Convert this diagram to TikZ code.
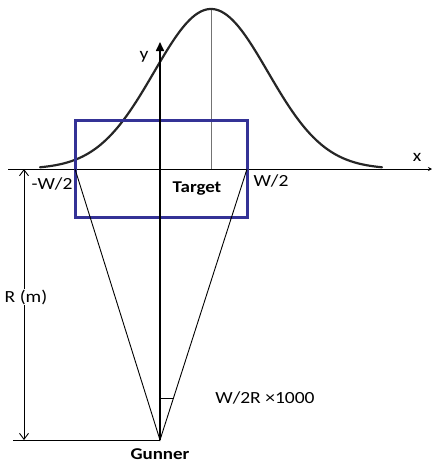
\documentclass[tikz,border=0pt]{standalone}
\usepackage{fontspec}
\setmainfont[FakeStretch=1.15]{Carlito}
\usetikzlibrary{arrows.meta}
\definecolor{boxblue}{RGB}{52,50,150}
\tikzset{
  lbl/.style={font=\fontsize{17}{19}\selectfont, inner sep=1pt},
  blbl/.style={font=\fontsize{16.5}{18}\selectfont\bfseries, inner sep=1pt},
  thin/.style={line width=0.9pt, black},
  dimarrow/.style={line width=0.9pt, {Straight Barb[length=6pt,width=9pt]}-{Straight Barb[length=6pt,width=9pt]}}
}
\begin{document}
\begin{tikzpicture}[x=1pt,y=-1pt]
\useasboundingbox (0,0) rectangle (432,466);
% coordinates
\coordinate (xl) at (8,169);
\coordinate (xr) at (432,169);
\coordinate (G) at (160,440);
\coordinate (ytop) at (160,42);
\coordinate (pk) at (211,9);
\coordinate (pkb) at (211,169);
\coordinate (L) at (75,169);
\coordinate (R) at (247,169);
\coordinate (dt) at (24,169);
\coordinate (db) at (24,440);
\coordinate (bl) at (13,440);
\coordinate (am1) at (160,398);
\coordinate (am2) at (173.5,398);
% x axis
\draw[line width=1pt, -{Stealth[length=4pt,width=4pt]}] (xl) -- (xr);
% peak line
\draw[line width=1pt, black!55] (pk) -- (pkb);
% gaussian
\draw[line width=2.2pt, black!85, line cap=round] plot[domain=40:382, samples=120, smooth] (\x, {169-160*exp(-((\x-211)/80.44)^2)});
% target box
\draw[line width=3pt, boxblue] (75,120) rectangle (247,217);
% lines to gunner
\draw[thin] (L) -- (G) -- (R);
% y axis
\draw[line width=1.6pt, -{Triangle[length=9pt,width=8pt]}] (G) -- (ytop);
% bottom line
\draw[thin] (bl) -- (G);
% dimension arrow
\draw[dimarrow] (dt) -- (db);
% angle marker
\draw[thin] (am1) -- (am2);
% labels
\node[lbl] (ylab) at (144,57) {y};
\node[lbl] (xlab) at (417,157) {x};
\node[lbl] (wl) at (52,184) {-W/2};
\node[lbl] (wr) at (271,181) {W/2};
\node[blbl] (tgt) at (197,189) {Target};
\node[lbl, fill=white, inner sep=1pt] (rm) at (26,297) {R (m)};
\node[lbl] (ang) at (265,398) {W/2R ×1000};
\node[blbl, anchor=base, inner sep=0pt] (gun) at (160,459) {Gunner};
\end{tikzpicture}
\end{document}
